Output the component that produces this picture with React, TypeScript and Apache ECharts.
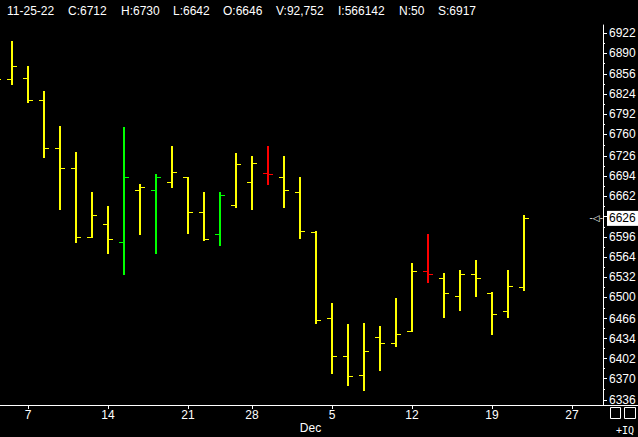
import React, { useEffect, useRef } from 'react';
import * as echarts from 'echarts';

// Trading days shown on the category axis (Nov 3 .. Dec 29, 2022)
const categories = [
  '11-03', '11-04', '11-07', '11-08', '11-09', '11-10', '11-11',
  '11-14', '11-15', '11-16', '11-17', '11-18',
  '11-21', '11-22', '11-23', '11-25',
  '11-28', '11-29', '11-30', '12-01', '12-02',
  '12-05', '12-06', '12-07', '12-08', '12-09',
  '12-12', '12-13', '12-14', '12-15', '12-16',
  '12-19', '12-20', '12-21', '12-22', '12-23',
  '12-27', '12-28', '12-29',
];

// Bars that have data
const barDates = [
  '11-03', '11-04', '11-07', '11-08', '11-09', '11-10', '11-11',
  '11-14', '11-15', '11-16', '11-17', '11-18',
  '11-21', '11-22', '11-23', '11-25',
  '11-28', '11-29', '11-30', '12-01', '12-02',
  '12-05', '12-06', '12-07', '12-08', '12-09',
  '12-12', '12-13', '12-14', '12-15', '12-16',
  '12-19', '12-20', '12-21',
];
const opens = [
  6870, 6847, 6850, 6815, 6737, 6705, 6595,
  6616, 6587, 6670, 6670, 6684,
  6691, 6635, 6600, 6646,
  6683, 6697, 6691, 6667, 6603,
  6466, 6405, 6375, 6435, 6426,
  6445, 6541, 6530, 6502, 6536,
  6506, 6478, 6516,
];
const highs = [
  6885, 6909, 6869, 6829, 6773, 6732, 6668,
  6646, 6772, 6681, 6697, 6742,
  6692, 6668, 6668, 6730,
  6726, 6742, 6726, 6692, 6606,
  6491, 6457, 6459, 6454, 6499,
  6555, 6601, 6538, 6544, 6560,
  6509, 6544, 6631,
];
const lows = [
  6835, 6839, 6811, 6723, 6639, 6587, 6594,
  6569, 6536, 6600, 6569, 6675,
  6601, 6590, 6582, 6642,
  6639, 6679, 6643, 6593, 6457,
  6378, 6358, 6350, 6382, 6421,
  6445, 6523, 6467, 6478, 6501,
  6440, 6467, 6510,
];
const closes = [
  6847, 6868, 6815, 6737, 6705, 6595, 6630,
  6593, 6692, 6675, 6691, 6700,
  6635, 6593, 6662, 6712,
  6713, 6696, 6670, 6605, 6463,
  6405, 6373, 6413, 6426, 6440,
  6541, 6536, 6506, 6536, 6530,
  6472, 6518, 6626,
];
const barColors = [
  'Y', 'Y', 'Y', 'Y', 'Y', 'Y', 'Y',
  'Y', 'G', 'Y', 'G', 'Y',
  'Y', 'Y', 'G', 'Y',
  'Y', 'R', 'Y', 'Y', 'Y',
  'Y', 'Y', 'Y', 'Y', 'Y',
  'Y', 'R', 'Y', 'Y', 'Y',
  'Y', 'Y', 'Y',
];

const weekStartDates = ['11-07', '11-14', '11-21', '11-28', '12-05', '12-12', '12-19', '12-27'];
const weekStartLabels = ['7', '14', '21', '28', '5', '12', '19', '27'];
const monthStartDate = '12-05';
const monthLabel = 'Dec';

const yTickValues = [
  6336, 6370, 6402, 6434, 6466, 6500, 6532, 6564, 6596, 6629,
  6662, 6694, 6726, 6760, 6792, 6824, 6856, 6890, 6922,
];
const lastPrice = 6626;

const headerItems = ['11-25-22', 'C:6712', 'H:6730', 'L:6642', 'O:6646', 'V:92,752', 'I:566142', 'N:50', 'S:6917'];
const headerX = [7, 68, 121, 173, 223, 276, 338, 399, 438];

const colorMap: Record<string, string> = { Y: '#ffff00', G: '#00ff00', R: '#ff0000' };
const FONT = '"Liberation Sans", Arial, sans-serif';

export default function App() {
  const ref = useRef<HTMLDivElement>(null);

  useEffect(() => {
    if (!ref.current) return;
    const chart = echarts.init(ref.current, undefined, { renderer: 'svg' });

    const data = barDates.map((d, i) => [d, opens[i], highs[i], lows[i], closes[i]]);
    const labelValues = yTickValues.filter((v) => Math.abs(v - lastPrice) > 8);
    const minorValues = yTickValues.slice(1).map((v, i) => (v + yTickValues[i]) / 2);
    const isWeekStart = (_i: number, v: string) => weekStartDates.indexOf(v) >= 0;

    const option: any = {
      animation: false,
      backgroundColor: '#000000',
      grid: {
        left: -12,
        width: 624,
        top: 25,
        height: 380,
        containLabel: false,
        outerBoundsMode: 'none',
      },
      xAxis: {
        type: 'category',
        data: categories,
        boundaryGap: true,
        axisLine: { show: true, lineStyle: { color: '#ffffff', width: 1 } },
        axisTick: {
          show: true,
          alignWithLabel: true,
          interval: isWeekStart,
          length: 4,
          lineStyle: { color: '#ffffff' },
        },
        axisLabel: {
          show: true,
          interval: isWeekStart,
          color: '#ffffff',
          fontSize: 12,
          fontFamily: FONT,
          lineHeight: 12,
          margin: 4,
          formatter: (v: string) => {
            const k = weekStartDates.indexOf(v);
            const t = k >= 0 ? weekStartLabels[k] : '';
            if (v === monthStartDate) return `{d|${t}}\n{m|${monthLabel}}`;
            return t;
          },
          rich: {
            d: { color: '#ffffff', fontSize: 12, fontFamily: FONT, lineHeight: 12 },
            m: { color: '#ffffff', fontSize: 12, fontFamily: FONT, lineHeight: 14, padding: [0, 43, 0, 0] },
          },
        },
        splitLine: { show: false },
      },
      yAxis: [
        {
          type: 'value',
          position: 'right',
          offset: -9,
          min: 6328,
          max: 6934.8,
          axisLine: { show: true, lineStyle: { color: '#ffffff', width: 1 } },
          axisTick: { show: true, customValues: yTickValues, length: 4, lineStyle: { color: '#ffffff' } },
          axisLabel: {
            show: true,
            customValues: labelValues,
            color: '#ffffff',
            fontSize: 12,
            fontFamily: FONT,
            margin: 6,
            formatter: (v: number) => String(Math.round(v)),
          },
          splitLine: { show: false },
        },
        {
          type: 'value',
          position: 'right',
          offset: -9,
          min: 6328,
          max: 6934.8,
          axisLine: { show: false },
          axisTick: { show: true, customValues: minorValues, length: 2, lineStyle: { color: '#ffffff' } },
          axisLabel: { show: false },
          splitLine: { show: false },
        },
        {
          type: 'value',
          position: 'right',
          offset: -9,
          min: 6328,
          max: 6934.8,
          axisLine: { show: false },
          axisTick: { show: false },
          axisLabel: {
            show: true,
            customValues: [lastPrice],
            color: '#000000',
            backgroundColor: '#ffffff',
            padding: [2, 3, 1, 2],
            fontSize: 12,
            fontFamily: FONT,
            margin: 4,
            formatter: (v: number) => String(Math.round(v)),
          },
          splitLine: { show: false },
        },
        {
          type: 'value',
          position: 'right',
          offset: -9,
          min: 6328,
          max: 6934.8,
          axisLine: { show: false },
          axisTick: { show: false },
          axisLabel: {
            show: true,
            inside: true,
            customValues: [lastPrice],
            color: '#ffffff',
            fontSize: 9,
            fontFamily: '"DejaVu Sans", sans-serif',
            margin: 0,
            formatter: () => '-\u25C1-',
          },
          splitLine: { show: false },
        },
      ],
      series: [
        {
          type: 'custom',
          xAxisIndex: 0,
          yAxisIndex: 0,
          clip: true,
          encode: { x: 0, y: [1, 2, 3, 4] },
          data,
          renderItem: (params: any, api: any) => {
            const x = api.value(0);
            const o = api.value(1);
            const h = api.value(2);
            const l = api.value(3);
            const c = api.value(4);
            const pH = api.coord([x, h]);
            const pL = api.coord([x, l]);
            const pO = api.coord([x, o]);
            const pC = api.coord([x, c]);
            const cx = Math.round(pH[0]);
            const color = colorMap[barColors[params.dataIndex]];
            const yo = Math.floor(pO[1]) + 0.5;
            const yc = Math.floor(pC[1]) + 0.5;
            return {
              type: 'group',
              children: [
                {
                  type: 'line',
                  shape: { x1: cx, y1: Math.round(pH[1]), x2: cx, y2: Math.round(pL[1]) },
                  style: { stroke: color, lineWidth: 2 },
                },
                {
                  type: 'line',
                  shape: { x1: cx - 5, y1: yo, x2: cx - 1, y2: yo },
                  style: { stroke: color, lineWidth: 1 },
                },
                {
                  type: 'line',
                  shape: { x1: cx + 1, y1: yc, x2: cx + 5, y2: yc },
                  style: { stroke: color, lineWidth: 1 },
                },
              ],
            };
          },
        },
      ],
      graphic: [
        ...headerItems.map((t, i) => ({
          type: 'text',
          left: headerX[i],
          top: 5,
          style: { text: t, fill: '#ffffff', font: `12px ${FONT}` },
        })),
        {
          type: 'line',
          shape: { x1: 612, y1: 405.5, x2: 638, y2: 405.5 },
          style: { stroke: '#ffffff', lineWidth: 1 },
        },
        {
          type: 'rect',
          shape: { x: 610.5, y: 407.5, width: 10, height: 11 },
          style: { stroke: '#ffffff', fill: 'none', lineWidth: 1 },
        },
        {
          type: 'rect',
          shape: { x: 624.5, y: 407.5, width: 11, height: 11 },
          style: { stroke: '#ffffff', fill: 'none', lineWidth: 1 },
        },
        {
          type: 'text',
          left: 616,
          top: 425,
          style: { text: '+IQ', fill: '#ffffff', font: `10px "DejaVu Sans Mono", monospace` },
        },
      ],
    };

    chart.setOption(option);
    return () => chart.dispose();
  }, []);

  return (
    <div
      ref={ref}
      style={{ position: 'fixed', left: 0, top: 0, width: 638, height: 437, background: '#000' }}
    />
  );
}
